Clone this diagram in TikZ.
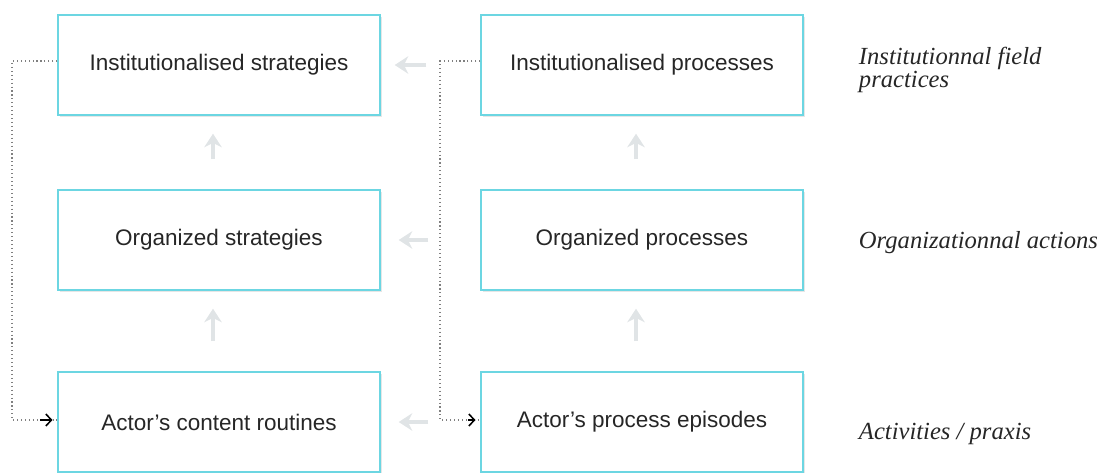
\documentclass[tikz,border=0pt]{standalone}
\usepackage{fontspec}
\setmainfont{Liberation Serif}
\setsansfont{Liberation Sans}
\usetikzlibrary{arrows.meta, shadows}

\definecolor{boxcyan}{RGB}{108,214,226}
\definecolor{fainta}{RGB}{224,228,230}

\tikzset{
    levelbox/.style={draw=boxcyan, line width=1pt, fill=white, minimum width=8.05cm, minimum height=2.5cm,
        font=\sffamily\fontsize{16}{19}\selectfont, text=black!85,
        drop shadow={opacity=0.2, shadow xshift=0.6mm, shadow yshift=-0.6mm}},
    levellabel/.style={anchor=west, align=left, font=\itshape\fontsize{17.5}{17}\selectfont, text=black!85},
    fadearrow/.style={color=fainta, line width=2.6pt, -{Stealth[length=3.4mm, width=4.4mm]}},
    feedback/.style={color=black!50, thick, dotted},
    feedtip/.style={line width=1.1pt, -{Straight Barb[length=1.4mm, width=3mm]}},
}

\begin{document}
\begin{tikzpicture}
        \useasboundingbox (0,0) rectangle (27.75,-11.8);
        % strategies
        \node[levelbox] (inststrat) at (5.475,-1.625) {Institutionalised strategies};
        \node[levelbox] (orgstrat) at (5.475,-6.0) {Organized strategies};
        \node[levelbox] (actstrat) at (5.475,-10.55) {Actor's content routines};
        % processes
        \node[levelbox] (instproc) at (16.05,-1.625) {Institutionalised processes};
        \node[levelbox] (orgproc) at (16.05,-6.0) {Organized processes};
        \node[levelbox] (actproc) at (16.05,-10.55) {Actor's process episodes};
        % levels
        \node[levellabel] (lvlfield) at (21.35,-1.75) {Institutionnal field\\practices};
        \node[levellabel] (lvlorg) at (21.35,-6.07) {Organizationnal actions};
        \node[levellabel] (lvlact) at (21.35,-10.85) {Activities / praxis};
        %
        \draw[fadearrow, shorten >=0.35cm, shorten <=1.35cm] (instproc.west) -- (inststrat.east);
        \draw[fadearrow, shorten >=0.45cm, shorten <=1.3cm] (orgproc.west) -- (orgstrat.east);
        \draw[fadearrow, shorten >=0.45cm, shorten <=1.3cm] (actproc.west) -- (actstrat.east);
        \draw[fadearrow, shorten >=0.45cm, shorten <=0.75cm] ([xshift=-0.15cm]orgstrat.north) -- ([xshift=-0.15cm]inststrat.south);
        \draw[fadearrow, shorten >=0.45cm, shorten <=0.75cm] ([xshift=-0.15cm]actstrat.north) -- ([xshift=-0.15cm]orgstrat.south);
        \draw[fadearrow, shorten >=0.45cm, shorten <=0.75cm] ([xshift=-0.15cm]actproc.north) -- ([xshift=-0.15cm]orgproc.south);
        \draw[fadearrow, shorten >=0.45cm, shorten <=0.75cm] ([xshift=-0.15cm]orgproc.north) -- ([xshift=-0.15cm]instproc.south);
        %
        \draw[feedback] ([yshift=0.1cm]inststrat.west) -| (0.3,-10.5) -- (actstrat.west |- 0,-10.5);
        \draw[feedtip, shorten >=0.12cm] (1.0,-10.5) -- (actstrat.west |- 0,-10.5);
        \draw[feedback] ([yshift=0.1cm]instproc.west) -| (11.0,-10.5) -- (actproc.west |- 0,-10.5);
        \draw[feedtip, shorten >=0.12cm] (11.7,-10.5) -- (actproc.west |- 0,-10.5);
    \end{tikzpicture}
\end{document}
